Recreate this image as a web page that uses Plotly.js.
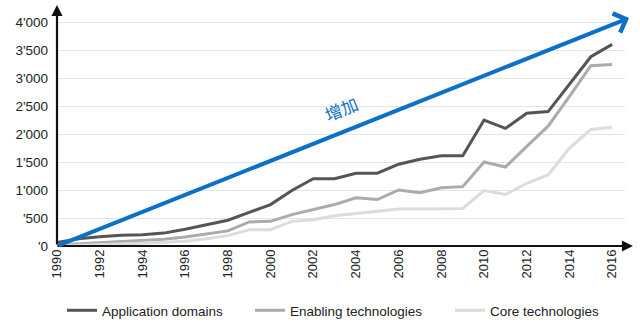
<!DOCTYPE html>
<html>
<head>
<meta charset="utf-8">
<script src="https://cdn.plot.ly/plotly-3.0.1.min.js"></script>
<style>html,body{margin:0;padding:0;background:#fff;}#chart{width:640px;height:326px;}</style>
</head>
<body>
<div id="chart"></div>
<script>
const years = [1990,1991,1992,1993,1994,1995,1996,1997,1998,1999,2000,2001,2002,2003,2004,2005,2006,2007,2008,2009,2010,2011,2012,2013,2014,2015,2016];
const applicationDomains = [60,130,165,190,200,230,300,380,460,600,740,990,1200,1200,1300,1300,1460,1550,1610,1610,2250,2100,2370,2400,2900,3380,3600];
const enablingTechnologies = [20,40,55,70,90,120,160,210,270,430,440,560,650,740,860,830,1000,950,1040,1060,1500,1410,1780,2140,2670,3220,3240];
const coreTechnologies = [0,10,20,35,50,65,85,130,185,290,290,440,470,540,580,620,660,660,660,670,990,920,1120,1270,1750,2080,2120];
const seriesNames = ["Application domains","Enabling technologies","Core technologies"];
const yTickVals = [0,500,1000,1500,2000,2500,3000,3500,4000];
const yTickText = ["'0","'500","1'000","1'500","2'000","2'500","3'000","3'500","4'000"];
const xTickVals = [1990,1992,1994,1996,1998,2000,2002,2004,2006,2008,2010,2012,2014,2016];
const trendLabel = "增加";

const colors = ["#555555","#ababab","#dcdcdc"];
const legendIds = ['legend','legend2','legend3'];
const legendX = [62, 250, 450];
const seriesData = [applicationDomains, enablingTechnologies, coreTechnologies];
const traces = seriesData.map((vals,i)=>({
  x: years, y: vals, type:'scatter', mode:'lines', name: seriesNames[i],
  legend: legendIds[i],
  line:{color:colors[i], width:3}, hoverinfo:'skip'
}));

const layout = {
  width:640, height:326,
  margin:{l:57, r:15, t:14, b:80},
  paper_bgcolor:'#fff', plot_bgcolor:'#fff',
  font:{family:'"Liberation Sans", Arial, sans-serif', color:'#333', size:13},
  showlegend:true,
  xaxis:{range:[1990,2016.6], tickvals:xTickVals, ticktext:xTickVals.map(String), automargin:false,
         tickangle:-90, showgrid:false, zeroline:false, showline:false, ticks:'',
         tickfont:{size:13, color:'#222'}, fixedrange:true},
  yaxis:{range:[0,4143], tickvals:yTickVals, ticktext:yTickText, showgrid:true, automargin:false,
         gridcolor:'#e4e4e4', gridwidth:1, zeroline:false, showline:false, ticks:'',
         ticklabelstandoff:8, tickfont:{size:13.5, color:'#222'}, fixedrange:true},
  annotations:[
    {xref:'paper', yref:'paper', x:0, y:1.039, ax:0, ay:241, showarrow:true,
     arrowhead:2, arrowwidth:2.2, arrowsize:1, arrowcolor:'#111', text:''},
    {xref:'paper', yref:'paper', x:1.014, y:0, ax:-577, ay:0, showarrow:true,
     arrowhead:2, arrowwidth:2.2, arrowsize:1, arrowcolor:'#111', text:''},
    {xref:'paper', yref:'paper', x:(629-57)/568, y:1+(14-18)/232, ax:-572, ay:228, showarrow:true,
     arrowhead:4, arrowwidth:4, arrowsize:1, arrowcolor:'#0d6fc6', text:''},
    {xref:'paper', yref:'paper', x:(341-57)/568, y:(246-108)/232, showarrow:false,
     text:trendLabel, textangle:-22, font:{size:17, color:'#0d6fc6', family:'"Noto Sans CJK SC", sans-serif'}}
  ]
};
legendIds.forEach((id,i)=>{
  layout[id] = {orientation:'h', xref:'container', yref:'container', x:legendX[i]/640, xanchor:'left',
    y:(326-295)/326, yanchor:'top', font:{size:13.5, color:'#222'}, bgcolor:'rgba(0,0,0,0)'};
});
Plotly.newPlot('chart', traces, layout, {displayModeBar:false, staticPlot:true});
</script>
</body>
</html>
